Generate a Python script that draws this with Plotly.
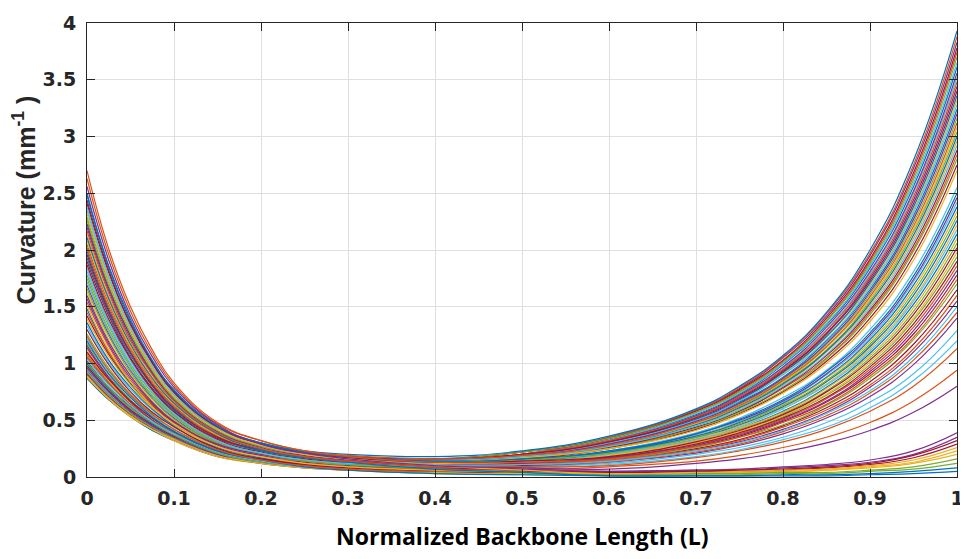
import plotly.graph_objects as go

# =============================================================================
# Data: curvature profiles read off the reference (sampled along the backbone)
# =============================================================================
X_POS = [0, 0.025, 0.05, 0.075, 0.1, 0.15, 0.2, 0.25, 0.3, 0.4, 0.5,
         0.6, 0.7, 0.75, 0.8, 0.85, 0.9, 0.95, 1.0]

# curves whose tip curvature ends in the upper band (~2.7 - 3.95)
TIP_HIGH = [
    [.87, .68, .53, .41, .32, .18, .13, .10, .09, .11, .19, .33, .55, .73, .99, 1.34, 1.84, 2.56, 3.61],
    [.90, .70, .55, .42, .33, .19, .13, .10, .08, .09, .15, .26, .43, .58, .78, 1.05, 1.45, 2.01, 2.84],
    [.92, .72, .56, .43, .34, .19, .14, .10, .09, .10, .17, .30, .51, .67, .91, 1.23, 1.69, 2.35, 3.32],
    [.94, .73, .57, .44, .35, .20, .14, .11, .09, .12, .20, .35, .59, .78, 1.05, 1.42, 1.95, 2.72, 3.83],
    [.97, .76, .59, .46, .36, .20, .14, .10, .09, .10, .16, .28, .47, .62, .83, 1.12, 1.55, 2.16, 3.04],
    [.99, .77, .60, .47, .36, .21, .15, .11, .09, .11, .19, .32, .54, .71, .96, 1.30, 1.79, 2.50, 3.52],
    [1.02, .79, .62, .48, .38, .21, .14, .10, .08, .09, .15, .25, .42, .56, .75, 1.02, 1.40, 1.95, 2.75],
    [1.05, .82, .64, .50, .39, .22, .15, .11, .09, .11, .17, .29, .50, .66, .88, 1.20, 1.65, 2.30, 3.24],
    [1.08, .84, .66, .51, .40, .23, .16, .12, .10, .12, .20, .34, .57, .76, 1.02, 1.38, 1.90, 2.65, 3.74],
    [1.12, .85, .65, .49, .38, .22, .15, .11, .09, .10, .16, .27, .45, .60, .81, 1.10, 1.51, 2.10, 2.96],
    [1.16, .88, .67, .51, .39, .23, .16, .12, .10, .12, .19, .31, .53, .70, .94, 1.27, 1.75, 2.44, 3.44],
    [1.26, .96, .73, .56, .42, .25, .17, .12, .10, .11, .17, .29, .48, .64, .86, 1.17, 1.61, 2.24, 3.16],
    [1.33, 1.01, .77, .59, .45, .26, .18, .13, .11, .13, .20, .33, .56, .74, 1.00, 1.35, 1.86, 2.59, 3.65],
    [1.42, 1.08, .82, .63, .48, .28, .19, .13, .11, .11, .16, .26, .44, .58, .79, 1.07, 1.47, 2.04, 2.88],
    [1.48, 1.10, .82, .61, .45, .26, .19, .15, .13, .13, .19, .31, .51, .68, .92, 1.24, 1.71, 2.38, 3.36],
    [1.54, 1.15, .85, .64, .47, .28, .20, .16, .14, .15, .22, .35, .59, .79, 1.06, 1.44, 1.97, 2.75, 3.88],
    [1.63, 1.21, .90, .67, .50, .29, .20, .16, .13, .13, .18, .28, .47, .63, .84, 1.14, 1.57, 2.18, 3.08],
    [1.69, 1.26, .94, .70, .52, .30, .21, .16, .14, .14, .20, .32, .54, .72, .97, 1.32, 1.81, 2.52, 3.56],
    [1.78, 1.33, .99, .74, .55, .32, .22, .16, .14, .13, .17, .25, .43, .57, .76, 1.04, 1.43, 1.99, 2.80],
    [1.84, 1.37, 1.02, .76, .56, .33, .23, .17, .15, .14, .19, .30, .50, .67, .90, 1.21, 1.67, 2.33, 3.28],
    [1.90, 1.42, 1.05, .78, .58, .34, .24, .18, .16, .16, .22, .34, .58, .77, 1.03, 1.40, 1.92, 2.68, 3.78],
    [1.99, 1.48, 1.10, .82, .61, .36, .24, .18, .15, .14, .18, .27, .46, .61, .82, 1.11, 1.53, 2.13, 3.00],
    [2.05, 1.53, 1.14, .85, .63, .37, .25, .19, .16, .15, .20, .32, .53, .71, .95, 1.29, 1.77, 2.47, 3.48],
    [2.14, 1.59, 1.19, .88, .66, .38, .26, .19, .16, .13, .17, .25, .41, .55, .74, 1.00, 1.37, 1.91, 2.70],
    [2.20, 1.64, 1.22, .91, .68, .39, .27, .20, .17, .15, .19, .29, .49, .65, .87, 1.18, 1.63, 2.27, 3.20],
    [2.26, 1.68, 1.25, .93, .69, .40, .28, .21, .18, .16, .22, .34, .57, .75, 1.01, 1.37, 1.88, 2.62, 3.70],
    [2.35, 1.75, 1.30, .97, .72, .42, .28, .21, .17, .15, .18, .27, .45, .59, .80, 1.08, 1.49, 2.07, 2.92],
    [2.41, 1.80, 1.34, 1.00, .74, .43, .29, .22, .18, .16, .20, .31, .52, .69, .93, 1.26, 1.73, 2.41, 3.40],
    [2.48, 1.85, 1.37, 1.02, .76, .44, .30, .23, .20, .18, .23, .36, .60, .80, 1.07, 1.45, 2.00, 2.79, 3.93],
    [2.63, 1.96, 1.46, 1.09, .81, .47, .32, .23, .19, .16, .19, .28, .48, .63, .85, 1.15, 1.59, 2.21, 3.12],
]

# curves whose tip curvature ends in the second band (~1.4 - 2.55)
TIP_MID = [
    [.88, .69, .53, .42, .32, .18, .12, .09, .07, .08, .12, .20, .34, .45, .61, .82, 1.13, 1.57, 2.22],
    [.91, .71, .55, .43, .33, .19, .12, .08, .06, .05, .08, .13, .21, .28, .38, .52, .71, .99, 1.40],
    [.93, .72, .56, .44, .34, .20, .13, .09, .07, .07, .11, .18, .30, .39, .53, .72, .99, 1.38, 1.94],
    [.95, .74, .58, .45, .35, .20, .13, .10, .08, .08, .13, .22, .37, .49, .66, .90, 1.23, 1.72, 2.42],
    [.98, .76, .59, .46, .36, .21, .13, .09, .07, .06, .09, .15, .25, .33, .45, .61, .84, 1.17, 1.65],
    [1.00, .78, .61, .47, .37, .21, .14, .10, .08, .08, .12, .19, .33, .43, .58, .79, 1.09, 1.52, 2.14],
    [1.06, .83, .64, .50, .39, .22, .14, .10, .07, .07, .10, .17, .28, .38, .51, .69, .95, 1.32, 1.86],
    [1.09, .85, .66, .51, .40, .23, .15, .11, .08, .08, .13, .21, .36, .48, .64, .87, 1.19, 1.66, 2.34],
    [1.14, .87, .66, .50, .38, .22, .14, .10, .08, .07, .09, .14, .24, .31, .42, .57, .79, 1.10, 1.55],
    [1.18, .90, .68, .52, .40, .23, .15, .11, .09, .08, .12, .19, .32, .42, .56, .76, 1.05, 1.46, 2.06],
    [1.22, .93, .71, .54, .41, .24, .16, .11, .09, .10, .14, .23, .39, .52, .70, .94, 1.30, 1.81, 2.55],
    [1.30, .99, .75, .57, .44, .25, .16, .11, .09, .08, .10, .16, .27, .36, .49, .66, .91, 1.26, 1.78],
    [1.36, 1.03, .79, .60, .46, .27, .17, .12, .10, .09, .13, .21, .35, .46, .62, .84, 1.15, 1.60, 2.26],
    [1.45, 1.10, .84, .64, .49, .28, .18, .12, .09, .07, .09, .13, .22, .29, .40, .54, .74, 1.03, 1.45],
    [1.51, 1.12, .84, .62, .46, .27, .18, .14, .11, .10, .12, .18, .30, .40, .54, .73, 1.01, 1.40, 1.98],
    [1.57, 1.17, .87, .65, .48, .28, .19, .14, .12, .11, .15, .22, .38, .50, .67, .91, 1.25, 1.74, 2.46],
    [1.66, 1.24, .92, .69, .51, .30, .20, .14, .12, .09, .11, .15, .26, .35, .46, .63, .87, 1.21, 1.70],
    [1.72, 1.28, .95, .71, .53, .31, .21, .15, .13, .11, .13, .20, .33, .44, .60, .81, 1.11, 1.55, 2.18],
    [1.87, 1.39, 1.04, .77, .57, .33, .22, .16, .13, .11, .12, .17, .29, .39, .52, .70, .97, 1.35, 1.90],
    [1.93, 1.44, 1.07, .80, .59, .35, .23, .17, .14, .12, .15, .22, .36, .48, .65, .88, 1.21, 1.69, 2.38],
    [2.02, 1.50, 1.12, .83, .62, .36, .24, .17, .14, .10, .11, .15, .24, .32, .44, .59, .81, 1.13, 1.60],
    [2.08, 1.55, 1.15, .86, .64, .37, .25, .18, .15, .12, .13, .19, .32, .43, .57, .78, 1.07, 1.49, 2.10],
    [2.23, 1.66, 1.24, .92, .68, .40, .26, .19, .15, .11, .12, .17, .28, .37, .50, .67, .93, 1.29, 1.82],
    [2.29, 1.71, 1.27, .95, .70, .41, .27, .20, .16, .13, .15, .21, .35, .47, .63, .85, 1.17, 1.63, 2.30],
    [2.38, 1.77, 1.32, .98, .73, .43, .28, .20, .16, .11, .11, .14, .23, .30, .41, .56, .76, 1.06, 1.50],
    [2.44, 1.82, 1.35, 1.01, .75, .44, .29, .21, .17, .13, .14, .18, .31, .41, .55, .75, 1.03, 1.43, 2.02],
    [2.50, 1.86, 1.39, 1.03, .77, .45, .30, .22, .18, .14, .16, .23, .38, .51, .68, .93, 1.27, 1.77, 2.50],
    [2.70, 2.01, 1.50, 1.12, .83, .48, .32, .23, .18, .13, .13, .16, .27, .35, .48, .64, .89, 1.23, 1.74],
]

# sparse curves (tip ~0.8 - 1.3) and the flat group hugging zero at the tip
TIP_LOW = [
    [.89, .69, .54, .42, .33, .19, .12, .08, .06, .04, .03, .03, .03, .04, .04, .06, .08, .12, .20],
    [.96, .75, .58, .45, .35, .20, .14, .10, .07, .05, .05, .05, .06, .06, .08, .10, .13, .20, .35],
    [1.01, .79, .61, .48, .37, .21, .13, .09, .06, .03, .02, .02, .02, .02, .03, .03, .05, .07, .12],
    [1.04, .81, .63, .49, .38, .22, .14, .09, .07, .05, .07, .11, .18, .24, .33, .44, .61, .85, 1.20],
    [1.10, .86, .67, .52, .40, .23, .16, .11, .08, .05, .04, .04, .05, .05, .06, .08, .11, .17, .29],
    [1.20, .91, .70, .53, .40, .23, .15, .09, .06, .03, .02, .01, .01, .01, .01, .01, .02, .03, .05],
    [1.24, .94, .72, .55, .42, .24, .15, .10, .07, .05, .06, .09, .14, .19, .26, .35, .48, .67, .94],
    [1.39, 1.06, .81, .61, .47, .27, .18, .12, .09, .06, .04, .03, .04, .04, .05, .06, .09, .13, .23],
    [1.60, 1.19, .89, .66, .49, .29, .20, .15, .12, .09, .07, .05, .06, .07, .09, .11, .15, .23, .39],
    [1.75, 1.30, .97, .72, .54, .31, .21, .15, .11, .07, .04, .02, .03, .03, .04, .04, .06, .09, .16],
    [1.81, 1.35, 1.00, .75, .56, .32, .21, .15, .12, .09, .09, .12, .20, .26, .35, .48, .66, .91, 1.29],
    [1.96, 1.46, 1.09, .81, .60, .35, .24, .18, .14, .09, .06, .04, .05, .06, .07, .09, .12, .19, .32],
    [2.11, 1.57, 1.17, .87, .65, .38, .24, .17, .13, .07, .04, .01, .01, .01, .02, .02, .03, .05, .08],
    [2.17, 1.62, 1.20, .90, .67, .39, .25, .18, .14, .09, .09, .10, .17, .23, .31, .42, .58, .80, 1.13],
    [2.32, 1.73, 1.29, .96, .71, .42, .28, .20, .16, .10, .06, .03, .04, .05, .06, .07, .10, .15, .26],
    [2.56, 1.91, 1.42, 1.06, .79, .46, .29, .21, .16, .10, .08, .07, .12, .16, .22, .30, .41, .57, .80],
]

X_TICKS = [0, 0.1, 0.2, 0.3, 0.4, 0.5, 0.6, 0.7, 0.8, 0.9, 1.0]
X_TICK_TEXT = ['0', '0.1', '0.2', '0.3', '0.4', '0.5', '0.6', '0.7', '0.8', '0.9', '1']
Y_TICKS = [0, 0.5, 1, 1.5, 2, 2.5, 3, 3.5, 4]
Y_TICK_TEXT = ['0', '0.5', '1', '1.5', '2', '2.5', '3', '3.5', '4']

# MATLAB default line colour order
COLOR_ORDER = ['#0072BD', '#D95319', '#EDB120', '#7E2F8E', '#77AC30', '#4DBEEE', '#A2142F']

AXIS_COLOR = '#262626'
GRID_COLOR = '#dfdfdf'
TICK_FONT = dict(family='DejaVu Sans, sans-serif', size=19, color=AXIS_COLOR, weight='bold')

# =============================================================================
# Figure
# =============================================================================
fig = go.Figure()

all_curves = TIP_HIGH + TIP_MID + TIP_LOW
for i, y_vals in enumerate(all_curves):
    fig.add_trace(go.Scatter(
        x=X_POS, y=y_vals,
        mode='lines',
        line=dict(color=COLOR_ORDER[i % len(COLOR_ORDER)], width=1.2, shape='spline', smoothing=1.3),
        hoverinfo='skip',
        showlegend=False,
    ))

axis_common = dict(
    showline=True, linecolor=AXIS_COLOR, linewidth=1, mirror='ticks',
    ticks='inside', ticklen=8, tickwidth=1, tickcolor=AXIS_COLOR,
    showgrid=True, gridcolor=GRID_COLOR, gridwidth=1,
    zeroline=False, tickfont=TICK_FONT, ticklabeloverflow='allow',
)

# the page body adds an 8px offset, so the figure is sized 8px short on each side
fig.update_layout(
    width=960, height=551,
    margin=dict(l=79, r=4, t=8, b=82),
    plot_bgcolor='white', paper_bgcolor='white',
    showlegend=False,
    xaxis=dict(range=[0, 1], tickvals=X_TICKS, ticktext=X_TICK_TEXT, ticklabelstandoff=4, **axis_common),
    yaxis=dict(range=[0, 4], tickvals=Y_TICKS, ticktext=Y_TICK_TEXT, ticklabelstandoff=6, **axis_common),
    annotations=[
        dict(
            text='Normalized Backbone Length (L)',
            xref='paper', yref='paper', x=0.5, y=-0.13,
            xanchor='center', yanchor='middle', showarrow=False,
            font=dict(family='Open Sans, sans-serif', size=23, color='black', weight='bold'),
        ),
        dict(
            text='Curvature (mm<sup>-1</sup> )',
            xref='paper', yref='paper', x=-0.072, y=0.61,
            xanchor='center', yanchor='middle', textangle=-90, showarrow=False,
            font=dict(family='Liberation Sans, Arial, sans-serif', size=25, color=AXIS_COLOR, weight='bold'),
        ),
    ],
)

fig.write_html("out.html")
